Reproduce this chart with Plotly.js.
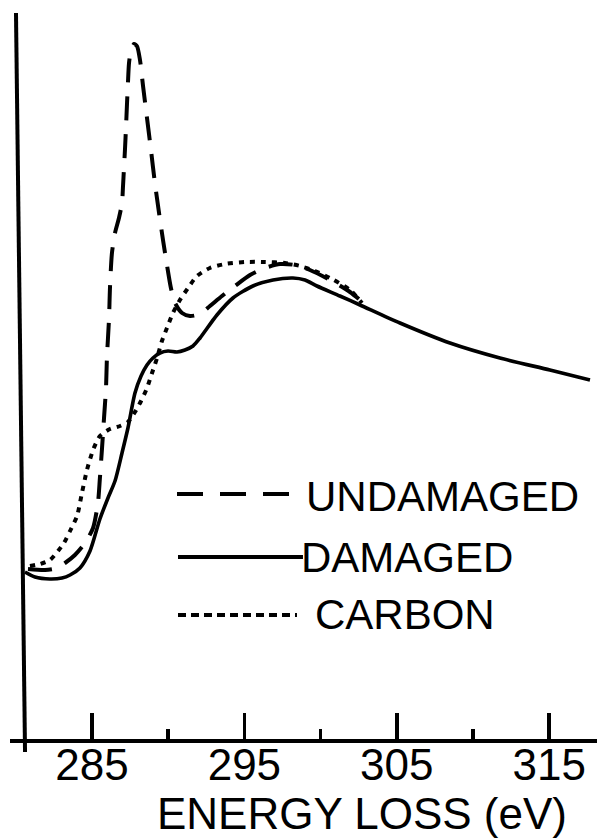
<!DOCTYPE html>
<html>
<head>
<meta charset="utf-8">
<script src="https://cdn.plot.ly/plotly-3.0.1.min.js"></script>
<style>
  html, body { margin: 0; padding: 0; background: #fff; }
  #chart { width: 597px; height: 839px; }
</style>
</head>
<body>
<div id="chart"></div>
<script>
// Energy-loss spectra near the carbon K edge (arbitrary intensity units)

const damagedE = [280.60, 281.26, 282.24, 283.03, 283.56, 284.21, 284.87, 285.52, 286.05, 286.51,
                  286.97, 287.36, 287.82, 288.22, 288.61, 289.00, 289.46, 289.99, 290.58, 291.10,
                  291.63, 292.09, 293.20, 294.25, 295.56, 296.88, 298.19, 298.98, 299.76, 301.27,
                  302.59, 305.21, 308.49, 311.77, 315.05, 317.68];
const damagedI = [1.66, 1.61, 1.59, 1.60, 1.63, 1.70, 1.87, 2.19, 2.40, 2.57,
                  2.85, 3.10, 3.45, 3.62, 3.73, 3.80, 3.85, 3.87, 3.86, 3.88,
                  3.92, 4.00, 4.23, 4.40, 4.52, 4.58, 4.60, 4.58, 4.52, 4.42,
                  4.33, 4.15, 3.95, 3.80, 3.68, 3.58];

const undamagedE = [280.80, 281.92, 282.70, 283.23, 283.88, 284.54, 285.07, 285.39, 285.52, 285.66,
                    285.79, 285.92, 285.98, 286.12, 286.18, 286.31, 286.51, 286.77, 286.97, 287.03,
                    287.10, 287.17, 287.23, 287.30, 287.36, 287.43, 287.56, 287.76, 287.95, 288.15,
                    288.35, 288.61, 288.87, 289.13, 289.40, 289.66, 289.92, 290.18, 290.45, 290.91,
                    291.43, 292.09, 292.74, 293.53, 294.38, 295.37, 296.35, 297.34, 298.32, 299.30,
                    300.62, 301.93, 302.91];
const undamagedI = [1.69, 1.68, 1.70, 1.75, 1.83, 1.95, 2.10, 2.35, 2.60, 2.90,
                    3.20, 3.50, 3.80, 4.20, 4.50, 4.85, 5.05, 5.20, 5.35, 5.50,
                    5.70, 5.90, 6.10, 6.35, 6.55, 6.75, 6.88, 6.94, 6.92, 6.78,
                    6.52, 6.20, 5.88, 5.55, 5.25, 4.98, 4.73, 4.50, 4.35, 4.25,
                    4.22, 4.24, 4.32, 4.42, 4.52, 4.63, 4.70, 4.74, 4.73, 4.68,
                    4.58, 4.46, 4.34];

const carbonE = [280.93, 281.59, 282.24, 282.77, 283.16, 283.56, 284.02, 284.34, 284.67, 285.07,
                 285.52, 286.18, 286.84, 287.36, 287.82, 288.22, 288.61, 288.94, 289.27, 289.59,
                 289.92, 290.31, 290.77, 291.30, 291.89, 292.74, 293.73, 295.04, 296.35, 297.66,
                 298.65, 299.63, 300.75, 301.93, 302.72];
const carbonI = [1.72, 1.74, 1.78, 1.87, 1.95, 2.07, 2.22, 2.45, 2.68, 2.88,
                 3.02, 3.09, 3.12, 3.16, 3.26, 3.37, 3.50, 3.65, 3.80, 3.97,
                 4.10, 4.25, 4.38, 4.50, 4.62, 4.70, 4.74, 4.76, 4.76, 4.75,
                 4.72, 4.67, 4.59, 4.48, 4.35];

const majorTicks = [285, 295, 305, 315];
const minorTicks = [290, 300, 310];
const seriesNames = ['UNDAMAGED', 'DAMAGED', 'CARBON'];
const xTitle = 'ENERGY LOSS (eV)';

const FONT = 'Liberation Sans, Arial, sans-serif';
const INK = '#000';

const traces = [
  { x: undamagedE, y: undamagedI, name: seriesNames[0], mode: 'lines',
    line: { color: INK, width: 4, dash: '24px,14px', shape: 'spline', smoothing: 0.7 } },
  { x: damagedE, y: damagedI, name: seriesNames[1], mode: 'lines',
    line: { color: INK, width: 3.6, shape: 'spline', smoothing: 0.7 } },
  { x: carbonE, y: carbonI, name: seriesNames[2], mode: 'lines',
    line: { color: INK, width: 4, dash: '5px,6px', shape: 'spline', smoothing: 0.7 } }
];

// key samples + labels
const keyDash = ['26px,17px', 'solid', '8px,5px'];
const keyY = [0.3361, 0.2497, 0.1701];
const keyX0 = [0.2845, 0.2862, 0.2862];
const keyX1 = [0.4991, 0.4991, 0.4889];
const labelX = [0.5010, 0.4930, 0.5170];
const labelY = [0.3320, 0.2483, 0.1701];

const shapes = [
  // vertical intensity axis, hand drawn slightly slanted
  { type: 'line', xref: 'paper', yref: 'paper', x0: 0.0102, y0: 0.9959, x1: 0.0256, y1: -0.0178,
    line: { color: INK, width: 4 } }
];
const annotations = [];
seriesNames.forEach((n, i) => {
  shapes.push({ type: 'line', xref: 'paper', yref: 'paper',
    x0: keyX0[i], x1: keyX1[i], y0: keyY[i], y1: keyY[i],
    line: { color: INK, width: 4, dash: keyDash[i] } });
  annotations.push({ xref: 'paper', yref: 'paper', x: labelX[i], y: labelY[i],
    xanchor: 'left', yanchor: 'middle', showarrow: false, text: n,
    font: { family: FONT, size: 42, color: INK } });
});

// energy-axis caption, set right of the plot centre
annotations.push({ xref: 'paper', yref: 'paper', x: 0.5997, y: -0.1365,
  xanchor: 'center', yanchor: 'bottom', showarrow: false, text: xTitle,
  borderpad: 0, font: { family: FONT, size: 44, color: INK } });

const layout = {
  width: 597, height: 839,
  margin: { l: 10, r: 0, t: 10, b: 100 },
  paper_bgcolor: '#fff', plot_bgcolor: '#fff',
  showlegend: false,
  xaxis: {
    range: [279.62, 318.14],
    showgrid: false, zeroline: false,
    showline: true, linecolor: INK, linewidth: 4,
    tickmode: 'array', tickvals: majorTicks, ticktext: majorTicks.map(String),
    ticks: 'inside', ticklen: 26, tickwidth: 3.5, tickcolor: INK,
    minor: { tickmode: 'array', tickvals: minorTicks, ticks: 'inside', ticklen: 10,
             tickwidth: 3.5, tickcolor: INK, showgrid: false },
    tickfont: { family: FONT, size: 44, color: INK },
    ticklabelstandoff: -16
  },
  yaxis: { range: [-0.01, 7.28], visible: false, showgrid: false, zeroline: false },
  shapes: shapes,
  annotations: annotations
};

Plotly.newPlot('chart', traces, layout, { staticPlot: true, displayModeBar: false });
</script>
</body>
</html>
